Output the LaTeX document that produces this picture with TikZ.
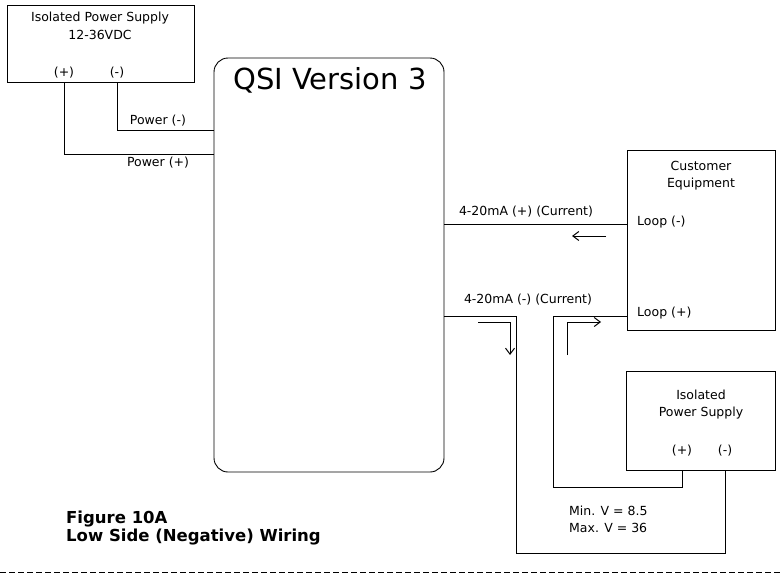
\documentclass[tikz,border=0pt]{standalone}
\usepackage{fontspec}
\setmainfont{DejaVu Sans}
\usetikzlibrary{arrows.meta}
\begin{document}
\begin{tikzpicture}[x=1pt,y=-1pt,
  wire/.style={line width=0.9pt},
  box/.style={draw,line width=0.9pt},
  lbl/.style={font=\fontsize{12.5}{14}\selectfont,inner sep=1pt},
  arr/.style={line width=1pt,-{Straight Barb[length=6pt,width=9pt]}}]
\useasboundingbox (0,0) rectangle (781,581);
\node[box,minimum width=187pt,minimum height=77pt] (ps1) at (100.5,43.5) {};
\node[lbl] at (100,18) {Isolated Power Supply};
\node[lbl] at (100,35) {12-36VDC};
\node[lbl] (p1p) at (64,73) {(+)};
\node[lbl] (p1m) at (117,73) {(-)};
\draw[box,rounded corners=14pt] (214,58) rectangle (444,472);
\node[font=\fontsize{29}{33}\selectfont] at (330,80) {QSI Version 3};
\coordinate (a) at (64,82); \coordinate (b) at (117,82);
\draw[wire] (a) |- (214,154);
\draw[wire] (b) |- (214,130);
\node[lbl] at (158,121) {Power (-)};
\node[lbl] at (158,163) {Power (+)};
\draw[box] (627,150) rectangle (775,330);
\node[lbl] at (701,166) {Customer};
\node[lbl] at (701,184) {Equipment};
\node[lbl,anchor=west] at (636,222) {Loop (-)};
\node[lbl,anchor=west] at (636,313) {Loop (+)};
\draw[wire] (444,224) -- (627,224);
\node[lbl] at (526,212) {4-20mA (+) (Current)};
\draw[arr] (606,236) -- (572,236);
\draw[box] (626,371) rectangle (775,470);
\node[lbl] at (701,395) {Isolated};
\node[lbl] at (701,413) {Power Supply};
\node[lbl] at (682,451) {(+)};
\node[lbl] at (725,451) {(-)};
\node[lbl] at (528,300) {4-20mA (-) (Current)};
\draw[wire] (444,316) -- (516,316) -- (516,553) -- (725,553) -- (725,470);
\draw[wire] (627,316) -- (553,316) -- (553,487) -- (682,487) -- (682,470);
\draw[arr] (478,322) -- (510,322) -- (510,355);
\draw[arr] (567,355) -- (567,322) -- (601,322);
\node[lbl,anchor=west] at (568,511) {Min. V = 8.5};
\node[lbl,anchor=west] at (568,528) {Max. V = 36};
\node[lbl,anchor=west,font=\bfseries\fontsize{16.5}{18}\selectfont] at (65,519) {Figure 10A};
\node[lbl,anchor=west,font=\bfseries\fontsize{16.5}{18}\selectfont] at (65,537) {Low Side (Negative) Wiring};
\draw[line width=1pt,dash pattern=on 6pt off 3pt] (0,572) -- (781,572);
\end{tikzpicture}
\end{document}
